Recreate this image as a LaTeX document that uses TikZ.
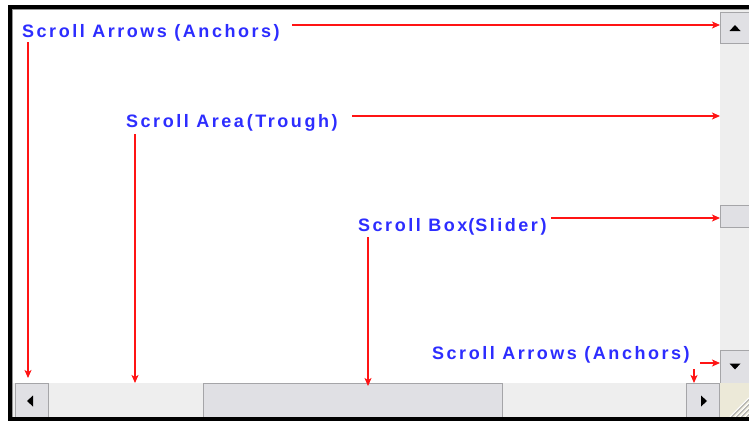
\documentclass[tikz,border=0pt]{standalone}
\usepackage{fontspec}
\newfontfamily\lblfont[LetterSpace=14]{Liberation Sans}
\usetikzlibrary{arrows.meta}
\definecolor{lblblue}{RGB}{45,45,255}
\definecolor{arrred}{RGB}{255,20,20}
\definecolor{btnface}{RGB}{224,224,228}
\definecolor{btnedge}{RGB}{165,165,168}
\definecolor{troughc}{RGB}{238,238,238}
\definecolor{gripc}{RGB}{236,233,216}
\definecolor{frameg}{RGB}{150,150,150}
\begin{document}
\begin{tikzpicture}[x=1pt,y=-1pt,
  lbl/.style={font=\lblfont\bfseries\fontsize{18}{21}\selectfont, text=lblblue, inner sep=0pt, anchor=base west},
  arr/.style={draw=arrred, line width=1.2pt, -{Stealth[length=8pt,width=7pt,inset=2pt]}},
  btn/.style={draw=btnedge, fill=btnface, line width=0.9pt, rectangle, inner sep=0pt, anchor=north west},
  trough/.style={fill=troughc, draw=none, rectangle, inner sep=0pt, anchor=north west},
  tri/.style={fill=black}]
\useasboundingbox (0,0) rectangle (749,421);
\fill[white] (0,0) rectangle (749,421);
% outer frame
\fill[black] (8,5) rectangle (749,421);
\fill[frameg] (12,9) rectangle (749,417);
\fill[white] (13,10) rectangle (749,417);
% troughs
\node[trough, minimum width=29pt, minimum height=373pt] (vtrough) at (720,10) {};
\node[trough, minimum width=707pt, minimum height=34pt] (htrough) at (13,383) {};
% buttons
\node[btn, minimum width=30pt, minimum height=31pt] (up) at (720,12) {};
\node[btn, minimum width=30pt, minimum height=33pt] (down) at (720,350) {};
\node[btn, minimum width=30pt, minimum height=22pt] (vslider) at (720,205) {};
\node[btn, minimum width=33pt, minimum height=34pt] (left) at (15,383) {};
\node[btn, minimum width=33pt, minimum height=34pt] (right) at (686,383) {};
\node[btn, minimum width=299pt, minimum height=34pt] (hslider) at (203,383) {};
% size grip
\node[fill=gripc, rectangle, inner sep=0pt, anchor=north west, minimum width=29pt, minimum height=34pt] (grip) at (720,383) {};
\foreach \d in {4,9,14,19} {
  \draw[white, line width=1.2pt] (749-\d,417) -- (749,417-\d);
  \draw[gray!70, line width=0.8pt] (749-\d+1.5,417) -- (749,417-\d+1.5);
}
% triangles
\fill[tri] (729.5,31) -- (740.5,31) -- (735,25) -- cycle;
\fill[tri] (729.5,363.5) -- (740.5,363.5) -- (735,369.5) -- cycle;
\fill[tri] (33,395.5) -- (33,406.5) -- (27,401) -- cycle;
\fill[tri] (701,395.5) -- (701,406.5) -- (707,401) -- cycle;
% bottom black line (over buttons)
\fill[black] (8,417) rectangle (749,421);
% labels
\node[lbl] (l1) at (22,37) {Scroll Arrows (Anchors)};
\node[lbl] (l2) at (126,127) {Scroll Area\hspace{3pt}(Trough)};
\node[lbl] (l3) at (358,231) {Scroll Box\hspace{1pt}(\hspace{1pt}Slider)};
\node[lbl] (l4) at (432,359) {Scroll Arrows (Anchors)};
% arrow endpoints
\coordinate (a1s) at (292,25);
\coordinate (a2s) at (28,42);
\coordinate (a3s) at (352,116);
\coordinate (a4s) at (135,134);
\coordinate (a5s) at (551,218);
\coordinate (a6s) at (368,237);
\coordinate (a7s) at (700,363);
\coordinate (a8s) at (694,369);
\coordinate (a2e) at (28,378);
\coordinate (a4e) at (135,383);
\coordinate (a6e) at (368,386);
% arrows
\draw[arr] (a1s) -- (a1s -| up.west);
\draw[arr] (a2s) -- (a2e);
\draw[arr] (a3s) -- (a3s -| vtrough.west);
\draw[arr] (a4s) -- (a4e);
\draw[arr] (a5s) -- (a5s -| vslider.west);
\draw[arr] (a6s) -- (a6e);
\draw[arr] (a7s) -- (a7s -| down.west);
\draw[arr] (a8s) -- (a8s |- right.north);
\end{tikzpicture}
\end{document}
